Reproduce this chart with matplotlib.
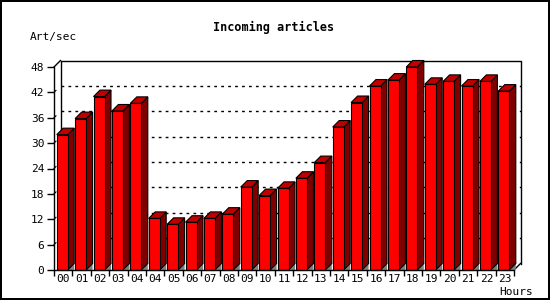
import matplotlib
matplotlib.use("Agg")
import matplotlib.pyplot as plt
from matplotlib.patches import Polygon, Rectangle

# hourly incoming articles (note the repeated "04" label as in the source)
hours = ["00", "01", "02", "03", "04", "04", "05", "06", "07", "08", "09", "10",
         "11", "12", "13", "14", "15", "16", "17", "18", "19", "20", "21", "22", "23"]
art_per_sec = [32.0, 35.8, 41.0, 37.6, 39.4, 12.2, 10.8, 11.3, 12.2, 13.2, 19.6, 17.6,
               19.3, 21.7, 25.4, 33.8, 39.6, 43.5, 44.9, 48.0, 43.9, 44.6, 43.5, 44.6, 42.3]
yticks = [0, 6, 12, 18, 24, 30, 36, 42, 48]

mono = "DejaVu Sans Mono"
front_col = "#ff0000"
side_col = "#800000"
top_col = "#c00000"
shadow_col = "#808080"

fig = plt.figure(figsize=(5.5, 3), dpi=100)
ax = fig.add_axes([54 / 550, 30 / 300, 460 / 550, 203 / 300])
n = len(hours)
ax.set_xlim(0, n)
ax.set_ylim(0, 48)

# depth offset of the fake 3d, in data units (about 6.5 px each way)
dx = 6.5 / (460 / n)
dy = 6.5 / (203 / 48)

# back wall + dotted grid
ax.plot([dx, dx, n + dx, n + dx], [dy, 48 + dy, 48 + dy, dy], color="black", lw=1, clip_on=False, zorder=1)
ax.plot([0, dx], [48, 48 + dy], color="black", lw=1, clip_on=False, zorder=1)
ax.plot([n, n + dx], [0, dy], color="black", lw=1, clip_on=False, zorder=1)
for v in yticks[1:-1]:
    ax.plot([dx, n + dx], [v + dy, v + dy], color="black", lw=1, ls=(0, (2, 3)), clip_on=False, zorder=1)
    ax.plot([0, dx * 0.3], [v, v + dy * 0.3], color="black", lw=0.8, clip_on=False, zorder=1)

# bars
off = 2.7 / (460 / n)
w = 11 / (460 / n)
for i, v in enumerate(art_per_sec):
    x0 = i + off
    x1 = x0 + w
    ax.add_patch(Polygon([(x1, 0), (x1 + dx, dy), (x1 + dx, 0)], closed=True,
                         fc=shadow_col, ec="none", clip_on=False, zorder=2))
    ax.add_patch(Polygon([(x1, 0), (x1 + dx, dy), (x1 + dx, v + dy), (x1, v)], closed=True,
                         fc=side_col, ec="black", lw=0.8, clip_on=False, zorder=3))
    ax.add_patch(Polygon([(x0, v), (x0 + dx, v + dy), (x1 + dx, v + dy), (x1, v)], closed=True,
                         fc=top_col, ec="black", lw=0.8, clip_on=False, zorder=3))
    ax.add_patch(Rectangle((x0, 0), w, v, fc=front_col, ec="black", lw=0.8, clip_on=False, zorder=4))

# axes
for s in ["top", "right"]:
    ax.spines[s].set_visible(False)
for s in ["left", "bottom"]:
    ax.spines[s].set_linewidth(1)
    ax.spines[s].set_zorder(5)
ax.patch.set_visible(False)
ax.set_yticks(yticks)
ax.set_yticklabels([str(v) for v in yticks], family=mono, fontsize=8)
ax.tick_params(axis="y", length=5, width=1, pad=2)
ax.set_xticks(range(n + 1))
ax.set_xticklabels([])
ax.set_xticks([i + 0.5 for i in range(n)], minor=True)
ax.set_xticklabels(hours, minor=True, family=mono, fontsize=8)
ax.tick_params(axis="x", which="major", length=4, width=1)
ax.tick_params(axis="x", which="minor", length=0, pad=3)

fig.text(274 / 550, 1 - 27 / 300, "Incoming articles", ha="center", va="center",
         family=mono, fontweight="bold", fontsize=8.5)
fig.text(30 / 550, 1 - 37 / 300, "Art/sec", ha="left", va="center", family=mono, fontsize=8)
fig.text(533 / 550, 1 - 292 / 300, "Hours", ha="right", va="center", family=mono, fontsize=8)

# outer frame
fig.patches.append(Rectangle((1 / 550, 1 / 300), 548 / 550, 298 / 300, transform=fig.transFigure,
                             fill=False, ec="black", lw=1.44, joinstyle="miter"))

fig.savefig("out.png", dpi=100)
